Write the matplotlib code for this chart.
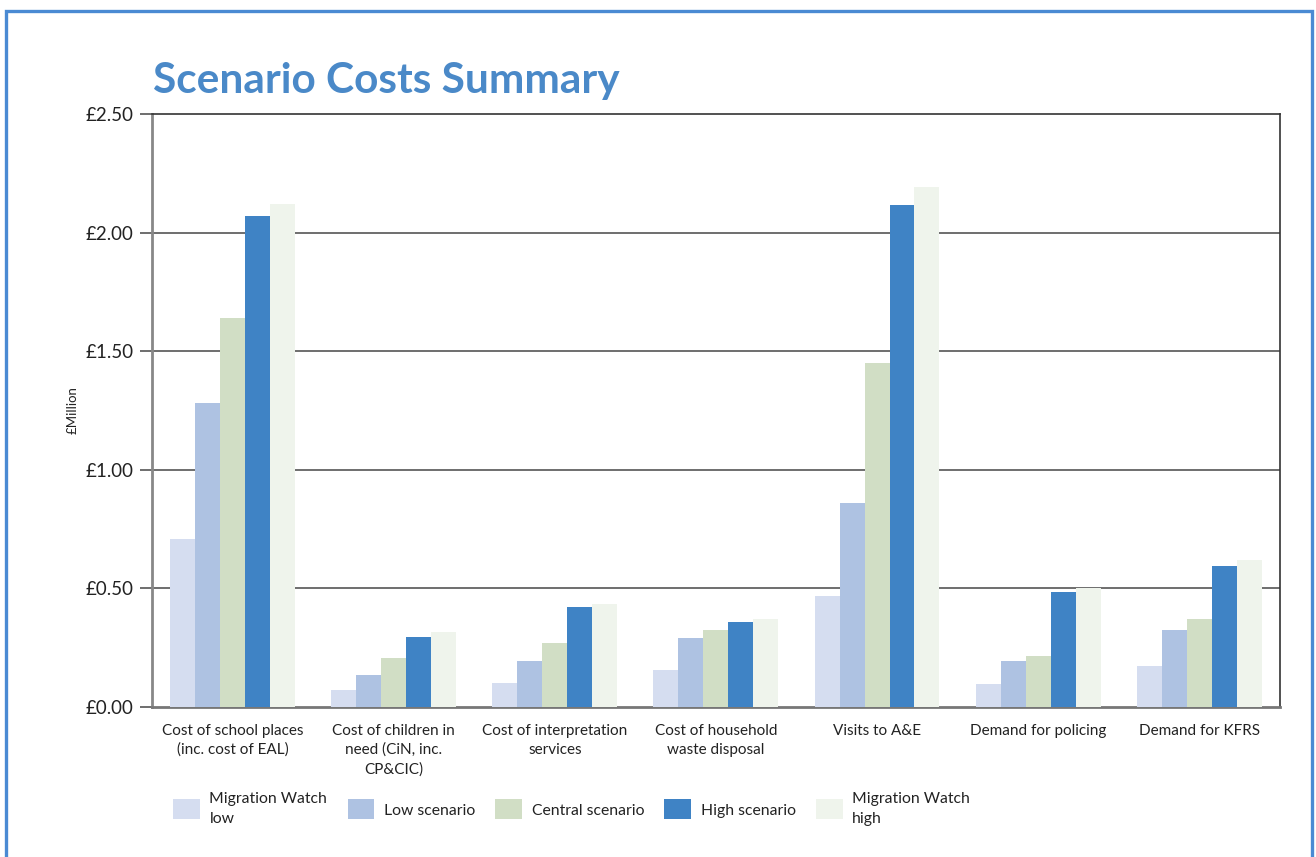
import numpy as np
import matplotlib
matplotlib.use('Agg')
import matplotlib.pyplot as plt
from matplotlib.patches import Rectangle

CATEGORIES = [
	'Cost of school places\n(inc. cost of EAL)',
	'Cost of children in\nneed (CiN, inc.\nCP&CIC)',
	'Cost of interpretation\nservices',
	'Cost of household\nwaste disposal',
	'Visits to A&E',
	'Demand for policing',
	'Demand for KFRS',
]

SERIES = [
	'Migration Watch\nlow',
	'Low scenario',
	'Central scenario',
	'High scenario',
	'Migration Watch\nhigh',
]

MW_LOW = [0.71, 0.07, 0.10, 0.155, 0.47, 0.095, 0.172]
LOW = [1.28, 0.134, 0.194, 0.289, 0.86, 0.194, 0.323]
CENTRAL = [1.64, 0.207, 0.272, 0.323, 1.45, 0.216, 0.371]
HIGH = [2.07, 0.297, 0.422, 0.358, 2.117, 0.483, 0.594]
MW_HIGH = [2.12, 0.315, 0.435, 0.371, 2.194, 0.50, 0.619]

COLOURS = ['#d5ddf0', '#aec2e2', '#d1dec5', '#3f83c5', '#eff4ec']

YTICKS = [0, 0.5, 1.0, 1.5, 2.0, 2.5]
YTICK_LABELS = ['£0.00', '£0.50', '£1.00', '£1.50', '£2.00', '£2.50']

plt.rcParams['font.family'] = ['Lato', 'DejaVu Sans']

fig = plt.figure(figsize=(13.16, 8.57), dpi=100)
ax = fig.add_axes([0.1155, 0.175, 0.857, 0.692])

values = [MW_LOW, LOW, CENTRAL, HIGH, MW_HIGH]
x = np.arange(len(CATEGORIES))
width = 0.155
for i, (vals, col, lab) in enumerate(zip(values, COLOURS, SERIES)):
	ax.bar(x + (i - 2) * width, vals, width, color=col, label=lab, zorder=3)

ax.set_xlim(-0.5, len(CATEGORIES) - 0.5)
ax.set_ylim(0, 2.5)
ax.set_yticks(YTICKS)
ax.set_yticklabels(YTICK_LABELS, fontsize=13.5, color='#222222')
ax.set_xticks(x)
ax.set_xticklabels(CATEGORIES, fontsize=11, color='#222222', linespacing=1.45)
ax.tick_params(axis='x', length=0, pad=12)
ax.tick_params(axis='y', length=9, width=1.2, color='#555555', pad=4)

for y in YTICKS[1:-1]:
	ax.axhline(y, color='#555555', lw=1.2, zorder=1)

ax.spines['left'].set_color('#888888')
ax.spines['left'].set_linewidth(2)
ax.spines['bottom'].set_color('#777777')
ax.spines['bottom'].set_linewidth(2)
ax.spines['top'].set_color('#333333')
ax.spines['top'].set_linewidth(1.2)
ax.spines['right'].set_color('#333333')
ax.spines['right'].set_linewidth(1.2)

ax.set_ylabel('£Million', fontsize=9.5, color='#222222', labelpad=5)

fig.text(0.1163, 0.905, 'Scenario Costs Summary', fontsize=30.5, fontweight='bold',
	color='#4a89c8', va='center', ha='left')

leg = fig.legend(loc='center left', bbox_to_anchor=(0.121, 0.056), ncol=5, frameon=False,
	fontsize=11.3, handlelength=1.7, handleheight=1.6, handletextpad=0.6,
	columnspacing=1.3, labelcolor='#222222')
for t in leg.get_texts():
	t.set_linespacing(1.55)

# blue frame round the whole figure
fig.patches.append(Rectangle((6 / 1316, -0.05), 1306 / 1316, 1.05 - 11 / 857,
	transform=fig.transFigure, fill=False, edgecolor='#4a8ad3', lw=2.4))

fig.savefig('out.png', dpi=100)
